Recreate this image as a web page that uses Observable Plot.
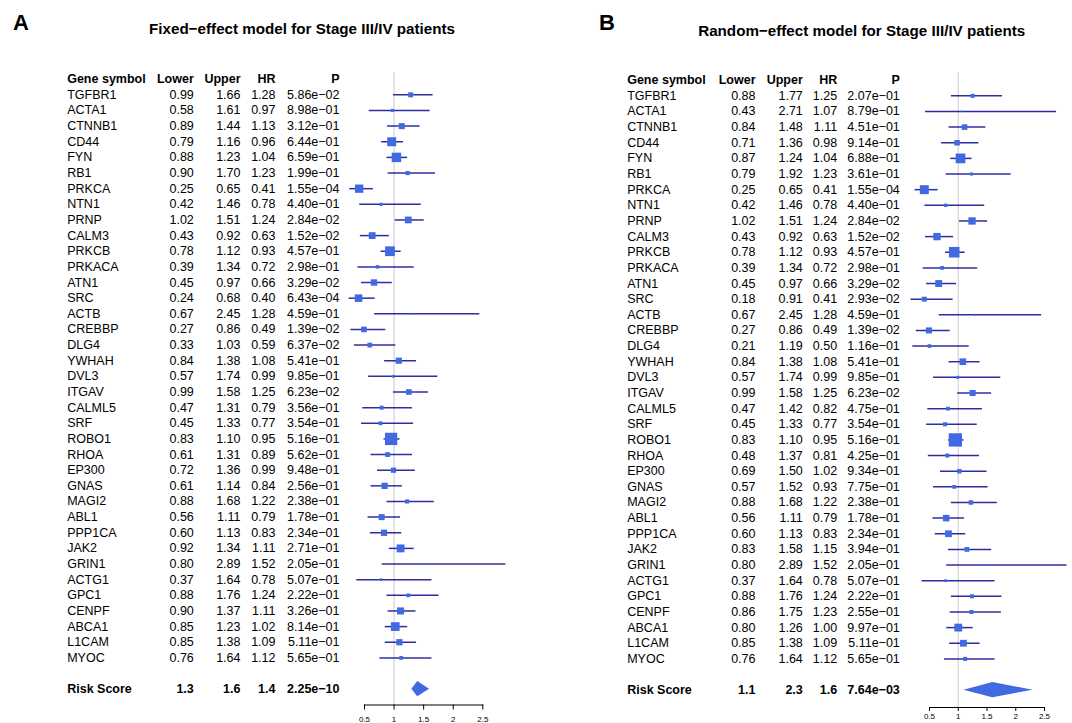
<!DOCTYPE html>
<html><head><meta charset="utf-8">
<script src="https://cdn.jsdelivr.net/npm/d3@7"></script>
<script src="https://cdn.jsdelivr.net/npm/@observablehq/plot@0.6"></script>
<style>
body{margin:0;background:#fff;}
#wrap{position:relative;width:1072px;height:723px;font-family:"Liberation Sans",Arial,Helvetica,sans-serif;color:#000;}
.panel{position:absolute;top:0;}
.tag{position:absolute;font-weight:bold;font-size:22px;line-height:22px;}
.title{position:absolute;width:600px;text-align:center;font-weight:bold;font-size:15.2px;line-height:15.2px;white-space:nowrap;}
</style></head><body>
<div id="wrap">
  <div class="tag" style="left:13px;top:11.5px;">A</div>
  <div class="tag" style="left:599px;top:11.5px;">B</div>
  <div class="title" style="left:2px;top:21.4px;">Fixed−effect model for Stage III/IV patients</div>
  <div class="title" style="left:561.7px;top:22.8px;">Random−effect model for Stage III/IV patients</div>
  <div class="panel" id="pa" style="left:0px;"></div>
  <div class="panel" id="pb" style="left:536px;"></div>
</div>
<script>
const headers = ["Gene symbol", "Lower", "Upper", "HR", "P"];
const genes = ["TGFBR1","ACTA1","CTNNB1","CD44","FYN","RB1","PRKCA","NTN1","PRNP","CALM3","PRKCB","PRKACA","ATN1","SRC","ACTB","CREBBP","DLG4","YWHAH","DVL3","ITGAV","CALML5","SRF","ROBO1","RHOA","EP300","GNAS","MAGI2","ABL1","PPP1CA","JAK2","GRIN1","ACTG1","GPC1","CENPF","ABCA1","L1CAM","MYOC"];
const summaryLabel = "Risk Score";

// Panel A: fixed-effect model
const lowerA = [0.99,0.58,0.89,0.79,0.88,0.90,0.25,0.42,1.02,0.43,0.78,0.39,0.45,0.24,0.67,0.27,0.33,0.84,0.57,0.99,0.47,0.45,0.83,0.61,0.72,0.61,0.88,0.56,0.60,0.92,0.80,0.37,0.88,0.90,0.85,0.85,0.76];
const upperA = [1.66,1.61,1.44,1.16,1.23,1.70,0.65,1.46,1.51,0.92,1.12,1.34,0.97,0.68,2.45,0.86,1.03,1.38,1.74,1.58,1.31,1.33,1.10,1.31,1.36,1.14,1.68,1.11,1.13,1.34,2.89,1.64,1.76,1.37,1.23,1.38,1.64];
const hrA = [1.28,0.97,1.13,0.96,1.04,1.23,0.41,0.78,1.24,0.63,0.93,0.72,0.66,0.40,1.28,0.49,0.59,1.08,0.99,1.25,0.79,0.77,0.95,0.89,0.99,0.84,1.22,0.79,0.83,1.11,1.52,0.78,1.24,1.11,1.02,1.09,1.12];
const pA = ["5.86e−02","8.98e−01","3.12e−01","6.44e−01","6.59e−01","1.99e−01","1.55e−04","4.40e−01","2.84e−02","1.52e−02","4.57e−01","2.98e−01","3.29e−02","6.43e−04","4.59e−01","1.39e−02","6.37e−02","5.41e−01","9.85e−01","6.23e−02","3.56e−01","3.54e−01","5.16e−01","5.62e−01","9.48e−01","2.56e−01","2.38e−01","1.78e−01","2.34e−01","2.71e−01","2.05e−01","5.07e−01","2.22e−01","3.26e−01","8.14e−01","5.11e−01","5.65e−01"];
const riskA = {lower: 1.3, upper: 1.6, hr: 1.4, p: "2.25e−10"};

// Panel B: random-effect model
const lowerB = [0.88,0.43,0.84,0.71,0.87,0.79,0.25,0.42,1.02,0.43,0.78,0.39,0.45,0.18,0.67,0.27,0.21,0.84,0.57,0.99,0.47,0.45,0.83,0.48,0.69,0.57,0.88,0.56,0.60,0.83,0.80,0.37,0.88,0.86,0.80,0.85,0.76];
const upperB = [1.77,2.71,1.48,1.36,1.24,1.92,0.65,1.46,1.51,0.92,1.12,1.34,0.97,0.91,2.45,0.86,1.19,1.38,1.74,1.58,1.42,1.33,1.10,1.37,1.50,1.52,1.68,1.11,1.13,1.58,2.89,1.64,1.76,1.75,1.26,1.38,1.64];
const hrB = [1.25,1.07,1.11,0.98,1.04,1.23,0.41,0.78,1.24,0.63,0.93,0.72,0.66,0.41,1.28,0.49,0.50,1.08,0.99,1.25,0.82,0.77,0.95,0.81,1.02,0.93,1.22,0.79,0.83,1.15,1.52,0.78,1.24,1.23,1.00,1.09,1.12];
const pB = ["2.07e−01","8.79e−01","4.51e−01","9.14e−01","6.88e−01","3.61e−01","1.55e−04","4.40e−01","2.84e−02","1.52e−02","4.57e−01","2.98e−01","3.29e−02","2.93e−02","4.59e−01","1.39e−02","1.16e−01","5.41e−01","9.85e−01","6.23e−02","4.75e−01","3.54e−01","5.16e−01","4.25e−01","9.34e−01","7.75e−01","2.38e−01","1.78e−01","2.34e−01","3.94e−01","2.05e−01","5.07e−01","2.22e−01","2.55e−01","9.97e−01","5.11e−01","5.65e−01"];
const riskB = {lower: 1.1, upper: 2.3, hr: 1.6, p: "7.64e−03"};

const xTicks = [0.5, 1, 1.5, 2, 2.5];

function makePanel(lower, upper, hr, p, risk, cfg) {
  const rowStep = 15.64;
  const nRows = genes.length;
  const riskRow = nRows + 2;
  const rows = genes.map((g, i) => ({row: i + 1, gene: g, lower: lower[i], upper: upper[i], hr: hr[i], p: p[i]}));
  const maxInfo = d3.max(rows, d => 1 / (d.upper - d.lower));
  const normalText = rows.map(d => ({row: d.row, gene: d.gene, lower: d.lower.toFixed(2), upper: d.upper.toFixed(2), hr: d.hr.toFixed(2), p: d.p}));
  const boldText = [
    {row: 0, gene: headers[0], lower: headers[1], upper: headers[2], hr: headers[3], p: headers[4]},
    {row: riskRow, gene: summaryLabel, lower: risk.lower.toFixed(1), upper: risk.upper.toFixed(1), hr: risk.hr.toFixed(1), p: risk.p}
  ];
  const diamond = [
    {y: riskRow - 0.49, x1: risk.hr, x2: risk.hr},
    {y: riskRow, x1: risk.lower, x2: risk.upper},
    {y: riskRow + 0.49, x1: risk.hr, x2: risk.hr}
  ];
  const keys = ["gene", "lower", "upper", "hr", "p"];
  const textMarks = [];
  keys.forEach((k, j) => {
    for (const [data, weight] of [[normalText, "normal"], [boldText, "bold"]]) {
      textMarks.push(Plot.text(data, {
        y: "row", text: k, frameAnchor: "left", dx: cfg.cols[j],
        textAnchor: j === 0 ? "start" : "end", fontSize: 12.5, fontWeight: weight, fill: "black"
      }));
    }
  });
  return Plot.plot({
    width: 536, height: 723,
    marginLeft: cfg.marginLeft, marginRight: cfg.marginRight,
    marginTop: 72, marginBottom: 723 - cfg.axisY,
    style: {fontFamily: "'Liberation Sans', Arial, sans-serif", background: "transparent", overflow: "visible"},
    x: {type: "linear", domain: [0.5, 2.5], axis: null},
    y: {type: "linear", domain: [0, riskRow], range: [cfg.y0, cfg.y0 + riskRow * rowStep], axis: null},
    r: {type: "linear", domain: [0, maxInfo], range: [0, cfg.boxMax / Math.sqrt(Math.PI)]},
    marks: [
      Plot.ruleX([1], {stroke: "#d3d3d3", strokeWidth: 1.2}),
      Plot.frame({anchor: "bottom", stroke: "black", strokeWidth: 1}),
      Plot.axisX({ticks: xTicks, tickFormat: d => String(d), tickSize: cfg.tickSize, tickPadding: cfg.tickPadding, fontSize: 8, label: null}),
      Plot.ruleY(rows, {y: "row", x1: "lower", x2: "upper", stroke: "darkblue", strokeWidth: 1.5, strokeOpacity: 0.82}),
      Plot.dot(rows, {x: "hr", y: "row", r: d => 1 / (d.upper - d.lower), symbol: "square", fill: "royalblue", stroke: "none"}),
      Plot.areaX(diamond, {y: "y", x1: "x1", x2: "x2", fill: "royalblue", curve: "linear"}),
      ...textMarks
    ]
  });
}

document.getElementById("pa").append(makePanel(lowerA, upperA, hrA, pA, riskA, {
  marginLeft: 364, marginRight: 53.7, axisY: 704.5, y0: 78.7, boxMax: 12.3, tickSize: 5, tickPadding: 6,
  cols: [-297.3, -170.7, -124, -89, -25]
}));
document.getElementById("pb").append(makePanel(lowerB, upperB, hrB, pB, riskB, {
  marginLeft: 393, marginRight: 28, axisY: 707, y0: 79.7, boxMax: 13.3, tickSize: 4, tickPadding: 2,
  cols: [-302.3, -174, -126.7, -92.3, -29.7]
}));
</script>
</body></html>
